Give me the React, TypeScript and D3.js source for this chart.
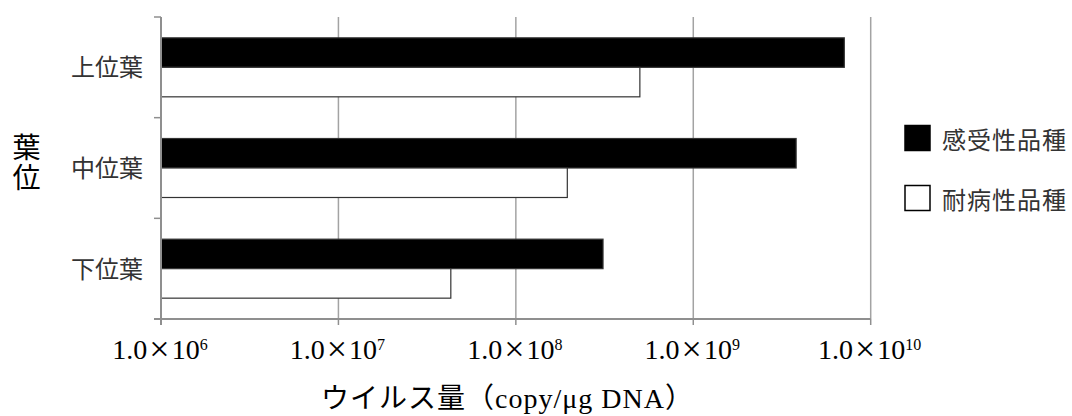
import React from "react";
import * as d3 from "d3";

const categories = ["上位葉", "中位葉", "下位葉"];
const seriesNames = ["感受性品種", "耐病性品種"];
const susceptible = [7.1e9, 3.8e9, 3.1e8];
const resistant = [5.0e8, 1.95e8, 4.3e7];
const tickExponents = [6, 7, 8, 9, 10];
const yTitle = "葉位";
const xTitle = "ウイルス量（copy/μg DNA）";

const W = 1072;
const H = 416;
const left = 161;
const right = 870.7;
const top = 17;
const bottom = 319;

export default function App() {
  const x = d3.scaleLog().domain([1e6, 1e10]).range([left, right]);
  const y = d3
    .scaleBand<string>()
    .domain(categories)
    .range([top, bottom])
    .paddingInner(0.414)
    .paddingOuter(0.207);
  const inner = d3
    .scaleBand<string>()
    .domain(seriesNames)
    .range([0, y.bandwidth()]);
  const series = [
    { name: seriesNames[0], values: susceptible, fill: "#000", stroke: "#333" },
    { name: seriesNames[1], values: resistant, fill: "#fff", stroke: "#333" },
  ];
  const step = y.step();
  const catTicks = d3.range(categories.length + 1).map((i) => top + i * step);
  const ticks = tickExponents.map((e) => Math.pow(10, e));
  const legendCenter = (top + bottom) / 2;
  const legendGap = 60;

  return (
    <svg
      width={W}
      height={H}
      style={{ position: "absolute", left: 0, top: 0, background: "#fff" }}
    >
      {/* grid */}
      {ticks.map((t, i) => (
        <line
          key={"g" + i}
          x1={x(t)}
          x2={x(t)}
          y1={top}
          y2={bottom}
          stroke="#a3a3a3"
          strokeWidth={1.5}
        />
      ))}
      {/* bars */}
      {series.map((s) =>
        categories.map((c, i) => (
          <rect
            key={s.name + c}
            x={x(1e6)}
            y={(y(c) as number) + (inner(s.name) as number)}
            width={x(s.values[i]) - x(1e6)}
            height={inner.bandwidth()}
            fill={s.fill}
            stroke={s.stroke}
            strokeWidth={1.2}
          />
        ))
      )}
      {/* axes */}
      <line x1={left} x2={left} y1={top} y2={bottom + 6} stroke="#8f8f8f" strokeWidth={2} />
      <line x1={left - 7} x2={right} y1={bottom} y2={bottom} stroke="#8f8f8f" strokeWidth={2} />
      {catTicks.map((ty, i) => (
        <line key={"yt" + i} x1={left - 7} x2={left} y1={ty} y2={ty} stroke="#8f8f8f" strokeWidth={1.5} />
      ))}
      {ticks.map((t, i) => (
        <line key={"xt" + i} x1={x(t)} x2={x(t)} y1={bottom} y2={bottom + 6} stroke="#8f8f8f" strokeWidth={1.5} />
      ))}
      {/* category labels */}
      {categories.map((c) => (
        <text
          key={"cl" + c}
          x={143}
          y={(y(c) as number) + y.bandwidth() / 2 + 9}
          textAnchor="end"
          fontFamily="Noto Sans CJK JP"
          fontSize={24}
          fill="#333"
        >
          {c}
        </text>
      ))}
      {/* x tick labels */}
      {tickExponents.map((e, i) => (
        <text
          key={"tl" + i}
          x={x(ticks[i]) - 1}
          y={359}
          textAnchor="middle"
          fontFamily="Liberation Serif"
          fontSize={28}
          fill="#000"
        >
          1.0
          <tspan fontSize={36} dy={2} dx={2}>×</tspan>
          <tspan fontSize={28} dy={-2} dx={2}>10</tspan>
          <tspan fontSize={16} dy={-9.5}>{e}</tspan>
        </text>
      ))}
      {/* y title (vertical) */}
      <text
        x={26.5}
        y={133}
        fontFamily="Noto Sans CJK JP"
        fontSize={28}
        fill="#000"
        letterSpacing={2}
        style={{ writingMode: "vertical-rl" }}
      >
        {yTitle}
      </text>
      {/* x title */}
      <text
        x={321}
        y={408}
        fontFamily="Liberation Serif, Noto Sans CJK JP"
        fontSize={28}
        fill="#000"
        textLength={372}
        lengthAdjust="spacing"
      >
        {xTitle}
      </text>
      {/* legend */}
      {series.map((s, i) => {
        const cy = legendCenter + (i - 0.5) * legendGap;
        return (
          <g key={"lg" + s.name}>
            <rect
              x={905}
              y={cy - 12.5}
              width={25}
              height={25}
              fill={s.fill}
              stroke="#000"
              strokeWidth={1.5}
            />
            <text
              x={942}
              y={cy + 11}
              fontFamily="Noto Sans CJK JP"
              fontSize={24}
              letterSpacing={1}
              fill="#333"
            >
              {s.name}
            </text>
          </g>
        );
      })}
    </svg>
  );
}
